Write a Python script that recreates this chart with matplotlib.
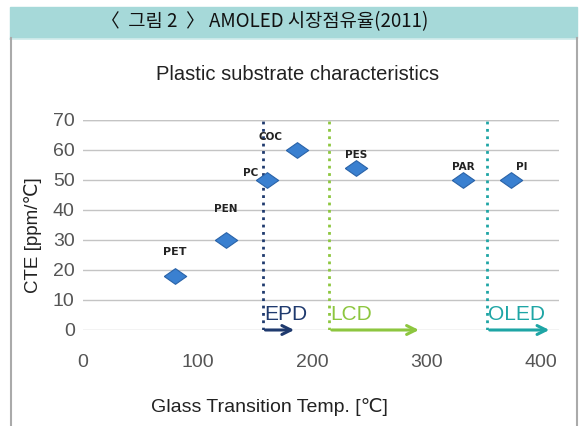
import matplotlib
matplotlib.use('Agg')
import matplotlib.pyplot as plt
from matplotlib.patches import Rectangle
from matplotlib.lines import Line2D

# data
materials = ['PET', 'PEN', 'PC', 'COC', 'PES', 'PAR', 'PI']
tg = [80, 125, 161, 187, 239, 332, 374]
cte = [18, 30, 50, 60, 54, 50, 50]
label_offsets = [(0, 17), (0, 22), (-12, 5), (-19, 9), (0, 9), (0, 9), (8, 9)]

regions = ['EPD', 'LCD', 'OLED']
region_start = [157, 215, 353]
region_end = [187, 296, 410]
region_colors = ['#1f3a6e', '#8dc63f', '#1ea5a5']

W, H = 579, 426
fig = plt.figure(figsize=(W / 100, H / 100), dpi=100)

# header band and frame
fig.patches.append(Rectangle((10 / W, 1 - 38 / H), 567 / W, 31 / H,
                             transform=fig.transFigure, color='#a6d9d9', zorder=0))
fig.lines.append(Line2D([10 / W, 577 / W], [1 - 38.5 / H, 1 - 38.5 / H],
                        transform=fig.transFigure, color='#d2ecec', lw=1.2))
for xp in (10.5, 576.5):
    fig.lines.append(Line2D([xp / W, xp / W], [0, 1 - 38 / H],
                            transform=fig.transFigure, color='#aaaaaa', lw=1.5))
fig.text(265 / W, 1 - 22 / H, '〈  그림 2  〉 AMOLED 시장점유율(2011)', ha='center', va='center',
         fontsize=13.5, family=['Noto Sans CJK KR', 'DejaVu Sans'], color='#111111')

ax = fig.add_axes([83 / W, 1 - 330 / H, 476 / W, 210 / H])
ax.set_xlim(0, 416)
ax.set_ylim(0, 70)
for s in ax.spines.values():
    s.set_visible(False)
ax.set_yticks(range(0, 71, 10))
ax.set_xticks(range(0, 401, 100))
ax.grid(axis='y', color='#c4c4c4', lw=1)
ax.set_axisbelow(True)
ax.tick_params(length=0, labelsize=14, labelcolor='#555555')
ax.tick_params(axis='x', pad=17)
ax.tick_params(axis='y', pad=6)
for t in ax.get_xticklabels() + ax.get_yticklabels():
    t.set_family('Liberation Sans')
ax.axhline(70, color='#c4c4c4', lw=1)

# vertical boundaries, arrows and region names
for name, x0, x1, c in zip(regions, region_start, region_end, region_colors):
    ax.plot([x0, x0], [0, 70], ls=':', lw=2, color=c, zorder=2)
    ax.annotate('', xy=(x1, 0), xytext=(x0, 0),
                arrowprops=dict(arrowstyle='->', color=c, lw=2.2, mutation_scale=16),
                annotation_clip=False, zorder=3)
    ax.text(x0 + 1, 5, name, color=c, fontsize=15, ha='left', va='center',
            family='Liberation Sans')

diamond = [(-1, 0), (0, 0.7), (1, 0), (0, -0.7), (-1, 0)]
ax.scatter(tg, cte, marker=diamond, s=260, color='#3a80d0', edgecolor='#2a63a8',
           lw=0.8, zorder=4)
for m, x, y, off in zip(materials, tg, cte, label_offsets):
    ax.annotate(m, (x, y), xytext=off, textcoords='offset points', ha='center',
                va='center', fontsize=8 if m == 'PET' else 7.5, fontweight='bold',
                color='#222222')

fig.text(298 / W, 1 - 75 / H, 'Plastic substrate characteristics', ha='center', va='center',
         fontsize=14.5, family='Liberation Sans', color='#222222')
fig.text(269 / W, 1 - 407 / H, 'Glass Transition Temp. [℃]', ha='center', va='center',
         fontsize=14, family=['Liberation Sans', 'DejaVu Sans'], color='#222222')
fig.text(33 / W, 1 - 235 / H, 'CTE [ppm/℃]', ha='center', va='center', rotation=90,
         fontsize=13.5, family=['Liberation Sans', 'DejaVu Sans'], color='#222222')

fig.savefig('out.png', dpi=100)
